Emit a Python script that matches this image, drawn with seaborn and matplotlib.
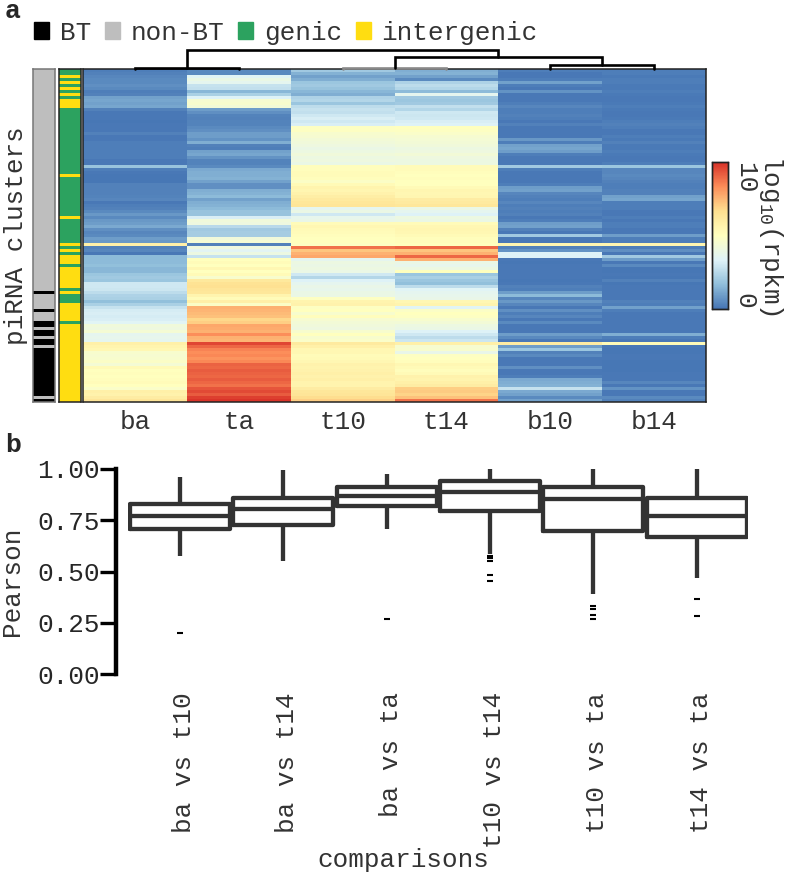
import matplotlib
matplotlib.use("Agg")
import matplotlib.pyplot as plt
from matplotlib.colors import ListedColormap
from matplotlib.patches import Patch
from matplotlib.transforms import ScaledTranslation
import numpy as np
import pandas as pd
import seaborn as sns

# heatmap values, one list per sample, top row first
ba = [.2,.3,.4,.5,.5,.6,.5,.2,.3,1.0,1.1,1.0,1.1,.3,.1,.1,.1,.05,.1,.1,.1,.3,.1,.1,.2,.2,.2,.2,.2,.2,.1,.1,1.8,.2,.1,.05,.05,.05,.3,.3,.3,.3,.35,.4,.1,.2,.3,.5,.8,.5,.8,.9,1.2,.6,.4,.5,.9,.8,5.8,.3,.4,.1,1.6,1.6,1.6,1.7,1.5,1.5,1.9,2.0,1.9,3.0,3.0,2.9,2.6,2.3,2.2,1.7,2.2,2.8,3.1,3.2,3.1,3.2,3.4,4.2,4.1,4.4,3.6,3.7,3.6,5.8,5.6,5.4,4.6,4.5,4.6,4.8,4.4,5.3,5.0,5.1,5.0,5.1,5.2,5.0,4.7,5.8,5.7,6.0,6.4]
ta = [.5,.5,3.4,3.9,3.6,2.8,2.7,1.5,2.2,3.3,4.5,4.6,4.3,.9,.6,.35,.3,.35,.35,.5,.6,.9,.9,.7,1.3,.3,.2,1.0,1.1,.7,.35,.35,.5,1.2,1.3,1.3,1.4,1.0,.6,.6,1.3,1.4,1.6,1.0,1.3,1.4,1.6,1.8,1.8,3.2,4.2,4.1,2.5,2.0,2.1,2.1,4.2,4.4,.3,4.1,3.5,4.0,2.8,5.0,5.2,5.0,5.4,5.0,5.3,4.6,6.2,6.5,6.6,6.4,6.3,5.6,5.2,5.8,4.8,7.6,7.5,7.4,7.3,6.8,7.0,7.8,7.7,7.6,8.3,7.6,7.5,9.6,9.0,8.5,8.3,8.4,8.2,8.4,9.1,9.0,9.2,9.1,9.0,9.2,9.0,8.8,9.3,9.5,9.2,9.7,9.9]
t10 = [2.0,1.4,1.0,1.3,1.9,2.0,1.8,1.5,1.3,2.3,2.4,1.9,2.6,2.8,2.7,3.0,3.2,3.0,3.2,4.9,4.9,4.6,4.5,4.3,4.2,4.1,3.9,4.0,4.2,4.0,4.1,3.9,5.1,5.1,5.2,5.2,5.1,4.8,5.3,5.6,5.5,5.7,5.9,6.1,6.3,6.4,3.6,3.9,3.0,3.7,3.8,5.2,5.4,5.3,5.2,5.1,5.0,5.0,4.9,8.8,7.2,7.6,7.8,3.6,4.0,3.9,4.0,3.9,3.0,2.4,3.3,3.6,3.8,3.7,3.9,3.9,4.9,5.6,5.7,4.9,5.0,4.6,5.1,4.5,4.3,4.2,4.1,4.6,5.0,4.6,4.7,6.1,5.8,5.4,5.4,5.2,5.3,5.4,5.7,5.6,5.7,5.8,5.7,5.8,5.6,5.6,6.0,6.3,6.4,6.7,7.0]
t14 = [1.3,1.4,1.0,.5,2.3,2.6,2.4,1.6,3.6,2.0,1.9,2.0,2.7,2.4,3.0,2.9,3.0,3.2,3.3,5.0,4.9,4.7,4.5,4.4,4.3,4.2,4.0,4.1,4.3,4.1,4.0,4.0,5.2,5.2,5.1,5.0,5.1,5.0,5.0,5.3,5.5,5.4,5.5,6.0,6.1,6.3,3.9,3.6,3.3,4.0,3.9,5.2,5.4,5.5,5.4,5.3,5.1,5.1,5.0,9.0,7.2,7.6,9.0,7.6,3.9,3.7,4.0,5.0,1.9,2.2,1.9,1.7,2.6,3.4,3.6,3.7,3.8,5.4,5.6,3.4,4.8,5.0,4.9,4.6,4.3,4.0,3.9,3.3,3.0,2.6,2.9,5.8,4.5,4.6,3.8,4.9,5.0,5.1,5.4,5.3,5.1,5.3,5.7,5.6,5.8,6.0,7.0,7.1,6.9,7.3,8.8]
b10 = [.2,.1,.1,.2,1.0,.2,.1,.7,.1,.1,.1,.2,.4,.2,.2,.3,.2,.1,.3,.1,.1,.1,.1,.8,.2,1.0,1.1,.9,.2,.1,.1,.1,2.0,.2,.1,.1,.1,.1,.2,.9,1.0,.4,.3,.2,.4,.2,.3,.2,.3,.1,.2,.9,1.0,.3,.1,2.0,.1,.1,5.5,.3,.7,3.3,3.3,.1,.05,.1,.1,.1,.1,.1,.05,.1,.3,.2,.9,1.6,.4,.8,.4,.1,.6,.2,.4,.1,.5,.1,.1,.1,.9,.5,.1,6.0,.9,1.9,.3,.5,.1,.1,.1,.6,.1,.1,.2,1.2,1.3,1.4,2.8,1.2,1.0,.5,1.0]
b14 = [.2,.2,.15,.2,.2,.15,.15,.2,.15,.1,.1,.15,.2,.15,.1,.1,.15,.2,.3,.2,.1,.1,.2,.15,.3,.15,.15,.2,.15,.1,.1,.2,1.9,.4,.4,.5,.4,.3,.2,.2,.3,.3,1.0,1.1,.2,.2,.2,.1,.1,.2,.1,.2,.2,.1,.1,.9,.2,.2,5.5,.2,.6,.1,2.0,.9,.1,.5,.05,.05,.1,.05,.3,.05,.1,.1,.1,.1,.1,.3,.2,1.0,.2,.1,.1,.1,.1,.1,.1,.1,1.3,.2,.1,5.2,.1,.05,.05,.1,.1,.05,.05,.05,.05,.1,.1,.1,.4,.1,.7,.1,.1,.5,.3]
samples = ["ba", "ta", "t10", "t14", "b10", "b14"]

# row annotations: which rows are BT / intergenic
bt_rows = [74, 80, 84, 85, 87, 88, 90, 91] + list(range(93, 109)) + [110]
intergenic_rows = [2, 4, 6, 8, 10, 11, 12, 35, 49, 58, 60, 62, 63, 64, 66, 67, 68, 69, 70, 71, 72, 74,
                   78, 79, 80, 81, 82, 83] + list(range(85, 111))

# dendrogram merges: left node, right node, height (pixels above the heatmap)
merges = [(0, 1, 1.5), (2, 3, 1.5), (4, 5, 4), (7, 8, 12), (6, 9, 19)]
merge_colors = ["black", "#888888", "black", "black", "black"]

# box plot numbers
comparisons = ["ba vs t10", "ba vs t14", "ba vs ta", "t10 vs t14", "t10 vs ta", "t14 vs ta"]
whisker_low = [.578, .552, .708, .585, .391, .467]
q1 = [.708, .728, .82, .796, .70, .666]
median = [.77, .806, .866, .886, .855, .77]
q3 = [.83, .858, .91, .94, .91, .858]
whisker_high = [.96, .993, .975, 1.0, 1.0, 1.0]
fliers = [[.20], [], [.269], [.575, .565, .552, .484, .454], [.334, .318, .288, .269], [.366, .285]]

heat_colors = ["#4575b4", "#91bfdb", "#e0f3f8", "#ffffbf", "#fee090", "#fc8d59", "#d73027"]

FIG_W, FIG_H = 787, 874
DARK = "#333333"
FONT = 18.7


def add_ax(fig, x0, y0, x1, y1):
    # pixel box, measured from the top left
    return fig.add_axes([x0 / FIG_W, 1 - y1 / FIG_H, (x1 - x0) / FIG_W, (y1 - y0) / FIG_H])


def main():
    sns.set_style("white")
    plt.rcParams["font.family"] = ["Liberation Mono", "DejaVu Sans Mono"]
    plt.rcParams["font.size"] = FONT
    plt.rcParams["mathtext.default"] = "regular"

    fig = plt.figure(figsize=(FIG_W / 100, FIG_H / 100), dpi=100)

    # panel a
    mat = pd.DataFrame(np.array([ba, ta, t10, t14, b10, b14]).T, columns=samples)
    n_rows = len(mat)
    cmap = sns.blend_palette(heat_colors, as_cmap=True)

    ax_heat = add_ax(fig, 83, 69, 706, 402)
    ax_cbar = add_ax(fig, 712, 162, 728, 309)
    sns.heatmap(mat, ax=ax_heat, cbar_ax=ax_cbar, cmap=cmap, vmin=0, vmax=10,
                yticklabels=False, cbar_kws={"ticks": [0, 10]})
    ax_heat.tick_params(axis="x", length=0, pad=6, labelsize=FONT, labelcolor=DARK, rotation=0)
    ax_heat.set_xlabel("")
    ax_heat.set_ylabel("")
    for spine in ax_heat.spines.values():
        spine.set_visible(True)
        spine.set_color("#222222")
        spine.set_linewidth(1.1)

    # colour bar labels, turned like the rest of the side text
    ax_cbar.tick_params(length=0, pad=3.5)
    ax_cbar.set_yticklabels(["0", "10"], rotation=270, color=DARK)
    ax_cbar.get_yticklabels()[0].set_va("bottom")
    ax_cbar.get_yticklabels()[1].set_va("top")
    fig.text(771 / FIG_W, 1 - 235 / FIG_H, "log$_{10}$(rpkm)", rotation=270,
             ha="center", va="center", color=DARK)
    for spine in ax_cbar.spines.values():
        spine.set_visible(True)
        spine.set_color("#222222")
        spine.set_linewidth(1.0)

    # BT strip
    bt_flag = [1 if i in bt_rows else 0 for i in range(n_rows)]
    ax_bt = add_ax(fig, 33, 69, 55, 402)
    sns.heatmap(pd.DataFrame({"bt": bt_flag}), ax=ax_bt, cbar=False, vmin=0, vmax=1,
                cmap=ListedColormap(["#bebebe", "black"]),
                xticklabels=False, yticklabels=False)
    ax_bt.set_ylabel("")
    fig.text(16 / FIG_W, 1 - 236 / FIG_H, "piRNA clusters", rotation=90,
             ha="center", va="center", color=DARK)

    # genic / intergenic strip
    region_flag = [1 if i in intergenic_rows else 0 for i in range(n_rows)]
    ax_region = add_ax(fig, 59, 69, 81, 402)
    sns.heatmap(pd.DataFrame({"region": region_flag}), ax=ax_region, cbar=False, vmin=0, vmax=1,
                cmap=ListedColormap(["#2ca25f", "#ffdd11"]),
                xticklabels=False, yticklabels=False)
    ax_region.set_ylabel("")

    for ax, edge in ((ax_bt, "#777777"), (ax_region, "#222222")):
        for spine in ax.spines.values():
            spine.set_visible(True)
            spine.set_color(edge)
            spine.set_linewidth(1.1)

    # column dendrogram, leaves sit at the heatmap column centres
    ax_dend = add_ax(fig, 83, 45, 706, 69)
    ax_dend.set_xlim(0, len(samples))
    ax_dend.set_ylim(0, 24)
    ax_dend.axis("off")
    node_x = {i: i + 0.5 for i in range(len(samples))}
    node_y = {i: 0 for i in range(len(samples))}
    for k, (left, right, h) in enumerate(merges):
        ax_dend.plot([node_x[left], node_x[left], node_x[right], node_x[right]],
                     [node_y[left], h, h, node_y[right]],
                     color=merge_colors[k], lw=1.9, clip_on=False, solid_joinstyle="miter")
        new_id = len(samples) + k
        node_x[new_id] = (node_x[left] + node_x[right]) / 2
        node_y[new_id] = h

    handles = [Patch(color="black", label="BT"), Patch(color="#bebebe", label="non-BT"),
               Patch(color="#2ca25f", label="genic"), Patch(color="#ffdd11", label="intergenic")]
    fig.legend(handles=handles, ncol=4, frameon=False, loc="center left",
               bbox_to_anchor=(34 / FIG_W, 1 - 33 / FIG_H), borderpad=0, borderaxespad=0,
               handlelength=0.58, handleheight=0.62, handletextpad=0.42, columnspacing=0.52,
               labelcolor=DARK)

    fig.text(5 / FIG_W, 1 - 18 / FIG_H, "a", fontsize=19, fontweight="bold", va="baseline")
    fig.text(5 / FIG_W, 1 - 452 / FIG_H, "b", fontsize=19, fontweight="bold", va="baseline")

    # panel b
    rows = []
    for i, name in enumerate(comparisons):
        # repeated quartiles keep the drawn box on the values
        sample = [whisker_low[i]] + [q1[i]] * 10 + [median[i]] * 10 + [q3[i]] * 10 + [whisker_high[i]] + fliers[i]
        rows += [(name, v) for v in sample]
    df = pd.DataFrame(rows, columns=["comparisons", "Pearson"])

    ax_box = add_ax(fig, 128.3, 469, 748.3, 674)
    sns.boxplot(data=df, x="comparisons", y="Pearson", ax=ax_box, fill=False, color=DARK,
                width=0.97, gap=0, linewidth=3.1, showcaps=False, whis=1.5,
                flierprops={"marker": "_", "markersize": 4.5, "markeredgewidth": 1.5,
                            "markeredgecolor": "black"})
    ax_box.set_ylim(0, 1)
    ax_box.set_xlim(-0.5, 5.5)
    ax_box.set_yticks([0, .25, .5, .75, 1])
    ax_box.set_yticklabels(["0.00", "0.25", "0.50", "0.75", "1.00"], color=DARK)
    sns.despine(ax=ax_box, bottom=True, offset={"left": 8.9})
    ax_box.spines["left"].set_linewidth(3.2)
    ax_box.spines["left"].set_color("black")
    ax_box.tick_params(axis="y", left=True, length=11.5, width=2.4, color="black", pad=0)
    ax_box.tick_params(axis="x", bottom=False, pad=9.5)
    shift = ScaledTranslation(4 / 100, 0, fig.dpi_scale_trans)
    for label in ax_box.get_xticklabels():
        label.set(rotation=90, ha="center", va="top", color=DARK)
        label.set_transform(label.get_transform() + shift)
    ax_box.set_xlabel("comparisons", color=DARK)
    ax_box.xaxis.set_label_coords(0.444, -0.907)
    ax_box.xaxis.label.set_va("center")
    ax_box.set_ylabel("Pearson", color=DARK)
    ax_box.yaxis.set_label_coords(-0.169, 0.454)

    fig.savefig("out.png", dpi=100)


if __name__ == "__main__":
    main()
